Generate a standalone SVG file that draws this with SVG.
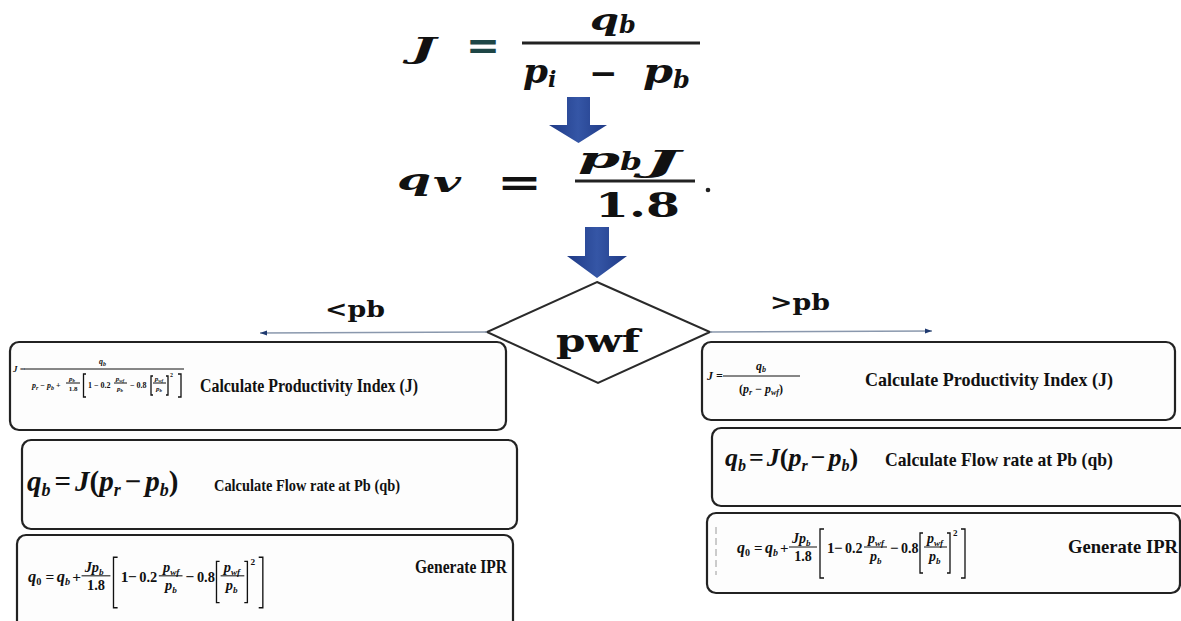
<svg xmlns="http://www.w3.org/2000/svg" width="1181" height="621" viewBox="0 0 1181 621">
<defs>
<style>
.big{font-family:"DejaVu Serif",serif;font-weight:bold;font-style:italic;fill:#111}
.bign{font-family:"DejaVu Serif",serif;font-weight:bold;fill:#111}
.mi{font-family:"Liberation Serif",serif;font-style:italic;font-weight:bold;fill:#111}
.mn{font-family:"Liberation Serif",serif;font-weight:bold;fill:#111}
.up{font-style:normal}
.lbl{font-family:"Liberation Serif",serif;font-weight:bold;fill:#111}
.box{fill:#fdfdfd;stroke:#222;stroke-width:2.2}
.bar{stroke:#111;stroke-width:1}
.brk{fill:none;stroke:#111;stroke-width:1.3}
.conn{stroke:#8a98ad;stroke-width:1.3;fill:none}
</style>
<linearGradient id="blue" x1="0" y1="0" x2="1" y2="0">
<stop offset="0" stop-color="#1f3a86"/>
<stop offset="0.5" stop-color="#3556a6"/>
<stop offset="1" stop-color="#1f3a86"/>
</linearGradient>
<marker id="ah" markerWidth="8" markerHeight="6" refX="7" refY="3" orient="auto" markerUnits="userSpaceOnUse">
<path d="M0,0.5 L7,3 L0,5.5 Z" fill="#1f3a70"/>
</marker>
</defs>
<rect width="1181" height="621" fill="#ffffff"/>

<g id="formula-J">
<text class="big" x="411" y="58" font-size="27" textLength="25" lengthAdjust="spacingAndGlyphs">J</text>
<text class="bign" x="466" y="59" font-size="40" textLength="34" lengthAdjust="spacingAndGlyphs" style="fill:#1e4646">=</text>
<text class="big" x="590" y="30" font-size="30" textLength="29" lengthAdjust="spacingAndGlyphs">q</text>
<text class="big" x="619" y="33" font-size="24">b</text>
<rect x="522" y="41.5" width="178" height="3" fill="#222"/>
<text class="big" x="523" y="83" font-size="34" textLength="25" lengthAdjust="spacingAndGlyphs">p</text>
<text class="big" x="548" y="87" font-size="22">i</text>
<text class="bign" x="589" y="85" font-size="34">−</text>
<text class="big" x="643" y="83" font-size="34" textLength="30" lengthAdjust="spacingAndGlyphs">p</text>
<text class="big" x="673" y="88" font-size="24">b</text>
</g>

<g id="formula-qv">
<text class="big" x="397" y="190" font-size="30" textLength="34" lengthAdjust="spacingAndGlyphs">q</text>
<text class="big" x="433" y="192" font-size="27" textLength="28" lengthAdjust="spacingAndGlyphs">v</text>
<text class="bign" x="497" y="196" font-size="40" textLength="45" lengthAdjust="spacingAndGlyphs">=</text>
<text class="big" x="578" y="168" font-size="28" textLength="42" lengthAdjust="spacingAndGlyphs">p</text>
<text class="big" x="620" y="170" font-size="24" textLength="22" lengthAdjust="spacingAndGlyphs">b</text>
<text class="big" x="645" y="172" font-size="30" textLength="35" lengthAdjust="spacingAndGlyphs">J</text>
<rect x="575" y="179.5" width="120" height="3" fill="#222"/>
<text class="bign" x="595" y="217" font-size="34" textLength="85" lengthAdjust="spacingAndGlyphs">1.8</text>
<circle cx="708" cy="190" r="2.3" fill="#222"/>
</g>

<g id="decision">
<polygon points="597,282 710,332 598,383 487,332" fill="#ffffff" stroke="#2a2a2a" stroke-width="2"/>
<text class="bign" x="556" y="352" font-size="31" textLength="84" lengthAdjust="spacingAndGlyphs">pwf</text>
</g>

<g id="connectors">
<polygon points="567,97 590,97 590,125 607,125 578.5,143 549,125 567,125" fill="url(#blue)"/>
<polygon points="585,227 609,227 609,256 627,256 597,278 567,256 585,256" fill="url(#blue)"/>
<line class="conn" x1="487" y1="332" x2="260" y2="333" marker-end="url(#ah)"/>
<line class="conn" x1="710" y1="332" x2="932" y2="331" marker-end="url(#ah)"/>
<text class="bign" x="325" y="317" font-size="23" textLength="60" lengthAdjust="spacingAndGlyphs">&lt;pb</text>
<text class="bign" x="770" y="310" font-size="23" textLength="60" lengthAdjust="spacingAndGlyphs">&gt;pb</text>
</g>

<g id="L1">
<rect class="box" x="10" y="342" width="496" height="88" rx="9"/>
<text class="mi" x="13" y="372" font-size="9">J =</text>
<line class="bar" x1="24" y1="369" x2="184" y2="369" stroke-width="0.8"/>
<text class="mi" x="99" y="364" font-size="8">q<tspan font-size="6" dy="2">b</tspan></text>
<text class="mi" x="32" y="388" font-size="8">p<tspan font-size="6" dy="2">r</tspan><tspan dy="-2" class="up"> − </tspan>p<tspan font-size="6" dy="2">b</tspan><tspan dy="-2" class="up"> +</tspan></text>
<text class="mi" x="72" y="381" font-size="7" text-anchor="middle">p<tspan font-size="5" dy="1">b</tspan></text>
<line class="bar" x1="66" y1="383" x2="80" y2="383" stroke-width="0.7"/>
<text class="mn" x="73" y="391" font-size="7" text-anchor="middle">1.8</text>
<polyline class="brk" points="86,374 83.5,374 83.5,397 86,397" stroke-width="0.8"/>
<text class="mn" x="88" y="388" font-size="8">1 − 0.2</text>
<text class="mi" x="120" y="381" font-size="7" text-anchor="middle">p<tspan font-size="5" dy="1">wf</tspan></text>
<line class="bar" x1="114" y1="383" x2="127" y2="383" stroke-width="0.7"/>
<text class="mi" x="120" y="391" font-size="7" text-anchor="middle">p<tspan font-size="5" dy="1">b</tspan></text>
<text class="mn" x="130" y="388" font-size="8">− 0.8</text>
<polyline class="brk" points="153,376 151,376 151,395 153,395" stroke-width="0.8"/>
<text class="mi" x="159" y="381" font-size="7" text-anchor="middle">p<tspan font-size="5" dy="1">wf</tspan></text>
<line class="bar" x1="153" y1="383" x2="166" y2="383" stroke-width="0.7"/>
<text class="mi" x="159" y="391" font-size="7" text-anchor="middle">p<tspan font-size="5" dy="1">b</tspan></text>
<polyline class="brk" points="166,376 168,376 168,395 166,395" stroke-width="0.8"/>
<text class="mn" x="170" y="377" font-size="6">2</text>
<polyline class="brk" points="178,374 181,374 181,397 178,397" stroke-width="0.8"/>
<text class="lbl" x="200" y="392" font-size="18" textLength="218" lengthAdjust="spacingAndGlyphs">Calculate Productivity Index (J)</text>
</g>

<g id="L2">
<rect class="box" x="22" y="440" width="495" height="89" rx="9"/>
<text class="mi" x="27" y="491" font-size="29">q<tspan font-size="18" dy="5">b</tspan><tspan class="up" dy="-5" dx="4">=</tspan><tspan dx="4">J</tspan><tspan class="up">(</tspan>p<tspan font-size="18" dy="5">r</tspan><tspan class="up" dy="-5" dx="4">−</tspan><tspan dx="4">p</tspan><tspan font-size="18" dy="5">b</tspan><tspan class="up" dy="-5">)</tspan></text>
<text class="lbl" x="214" y="491" font-size="17" textLength="186" lengthAdjust="spacingAndGlyphs">Calculate Flow rate at Pb (qb)</text>
</g>

<g id="L3">
<rect class="box" x="17" y="535" width="496" height="100" rx="9"/>
<g transform="translate(28,582) scale(1.03)">
<text class="mi" x="0" y="0" font-size="16">q</text><text class="mn" x="8" y="3" font-size="10">0</text>
<text class="mn" x="17" y="0" font-size="15">=</text>
<text class="mi" x="28" y="0" font-size="16">q</text><text class="mi" x="36" y="3" font-size="10">b</text>
<text class="mn" x="43" y="0" font-size="15">+</text>
<text class="mi" x="55" y="-10" font-size="14">Jp</text><text class="mi" x="69" y="-7" font-size="9">b</text>
<line class="bar" x1="52" y1="-6" x2="80" y2="-6"/>
<text class="mn" x="66" y="8" font-size="14" text-anchor="middle">1.8</text>
<polyline class="brk" points="87,-24 83,-24 83,25 87,25"/>
<text class="mn" x="90" y="0" font-size="15">1</text>
<text class="mn" x="97" y="0" font-size="15">−</text>
<text class="mn" x="108" y="0" font-size="14">0.2</text>
<text class="mi" x="131" y="-10" font-size="14">p</text><text class="mi" x="138" y="-7" font-size="9">wf</text>
<line class="bar" x1="127" y1="-6" x2="150" y2="-6"/>
<text class="mi" x="133" y="8" font-size="14">p</text><text class="mi" x="140" y="11" font-size="9">b</text>
<text class="mn" x="153" y="0" font-size="15">−</text>
<text class="mn" x="164" y="0" font-size="14">0.8</text>
<polyline class="brk" points="186,-20 183,-20 183,20 186,20"/>
<text class="mi" x="190" y="-10" font-size="14">p</text><text class="mi" x="197" y="-7" font-size="9">wf</text>
<line class="bar" x1="187" y1="-6" x2="210" y2="-6"/>
<text class="mi" x="192" y="8" font-size="14">p</text><text class="mi" x="199" y="11" font-size="9">b</text>
<polyline class="brk" points="210,-20 213,-20 213,20 210,20"/>
<text class="mn" x="216" y="-17" font-size="9">2</text>
<polyline class="brk" points="224,-24 228,-24 228,25 224,25"/>
</g>
<text class="lbl" x="415" y="573" font-size="18" textLength="92" lengthAdjust="spacingAndGlyphs">Generate IPR</text>
</g>

<g id="R1">
<rect class="box" x="702" y="342" width="473" height="78" rx="9"/>
<text class="mi" x="707" y="380" font-size="12">J =</text>
<line class="bar" x1="723" y1="376" x2="800" y2="376"/>
<text class="mi" x="761" y="370" font-size="12" text-anchor="middle">q<tspan font-size="8" dy="2">b</tspan></text>
<text class="mi" x="761" y="393" font-size="12" text-anchor="middle"><tspan class="up">(</tspan>p<tspan font-size="8" dy="2">r</tspan><tspan dy="-2" class="up"> − </tspan>p<tspan font-size="8" dy="2">wf</tspan><tspan dy="-2" class="up">)</tspan></text>
<text class="lbl" x="865" y="386" font-size="19" textLength="248" lengthAdjust="spacingAndGlyphs">Calculate Productivity Index (J)</text>
</g>

<g id="R2">
<rect class="box" x="712" y="428" width="480" height="78" rx="9"/>
<text class="mi" x="725" y="466" font-size="26">q<tspan font-size="16" dy="5">b</tspan><tspan class="up" dy="-5" dx="3">=</tspan><tspan dx="3">J</tspan><tspan class="up">(</tspan>p<tspan font-size="16" dy="5">r</tspan><tspan class="up" dy="-5" dx="3">−</tspan><tspan dx="3">p</tspan><tspan font-size="16" dy="5">b</tspan><tspan class="up" dy="-5">)</tspan></text>
<text class="lbl" x="885" y="466" font-size="19" textLength="228" lengthAdjust="spacingAndGlyphs">Calculate Flow rate at Pb (qb)</text>
</g>

<g id="R3">
<rect class="box" x="707" y="513" width="473" height="80" rx="9"/>
<line x1="716" y1="527" x2="716" y2="575" stroke="#9a9a9a" stroke-width="1" stroke-dasharray="7,4"/>
<g transform="translate(737,553)">
<text class="mi" x="0" y="0" font-size="16">q</text><text class="mn" x="8" y="3" font-size="10">0</text>
<text class="mn" x="17" y="0" font-size="15">=</text>
<text class="mi" x="28" y="0" font-size="16">q</text><text class="mi" x="36" y="3" font-size="10">b</text>
<text class="mn" x="43" y="0" font-size="15">+</text>
<text class="mi" x="55" y="-10" font-size="14">Jp</text><text class="mi" x="69" y="-7" font-size="9">b</text>
<line class="bar" x1="52" y1="-6" x2="80" y2="-6"/>
<text class="mn" x="66" y="8" font-size="14" text-anchor="middle">1.8</text>
<polyline class="brk" points="87,-24 83,-24 83,25 87,25"/>
<text class="mn" x="90" y="0" font-size="15">1</text>
<text class="mn" x="97" y="0" font-size="15">−</text>
<text class="mn" x="108" y="0" font-size="14">0.2</text>
<text class="mi" x="131" y="-10" font-size="14">p</text><text class="mi" x="138" y="-7" font-size="9">wf</text>
<line class="bar" x1="127" y1="-6" x2="150" y2="-6"/>
<text class="mi" x="133" y="8" font-size="14">p</text><text class="mi" x="140" y="11" font-size="9">b</text>
<text class="mn" x="153" y="0" font-size="15">−</text>
<text class="mn" x="164" y="0" font-size="14">0.8</text>
<polyline class="brk" points="186,-20 183,-20 183,20 186,20"/>
<text class="mi" x="190" y="-10" font-size="14">p</text><text class="mi" x="197" y="-7" font-size="9">wf</text>
<line class="bar" x1="187" y1="-6" x2="210" y2="-6"/>
<text class="mi" x="192" y="8" font-size="14">p</text><text class="mi" x="199" y="11" font-size="9">b</text>
<polyline class="brk" points="210,-20 213,-20 213,20 210,20"/>
<text class="mn" x="216" y="-17" font-size="9">2</text>
<polyline class="brk" points="224,-24 228,-24 228,25 224,25"/>
</g>
<text class="lbl" x="1068" y="553" font-size="19" textLength="110" lengthAdjust="spacingAndGlyphs">Generate IPR</text>
</g>
</svg>
